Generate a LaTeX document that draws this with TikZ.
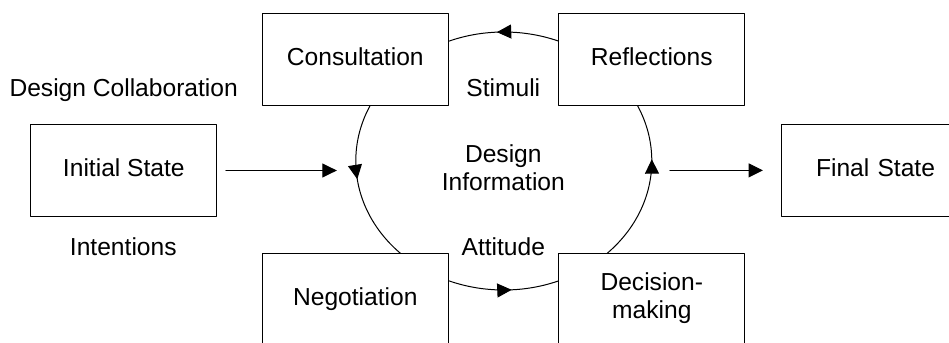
\documentclass[tikz,border=0pt]{standalone}
\usepackage{fontspec}
\setmainfont{Liberation Sans}
\usepackage{tikz}
\usetikzlibrary{arrows.meta,decorations.markings}

\begin{document}
\begin{tikzpicture}[line cap=round,line join=round,>={Triangle[length=7.2pt,width=7pt]},x=0.5pt,y=0.5pt,
  line width=0.5pt,
  every node/.style={font=\fontsize{12.3pt}{14.3pt}\selectfont},
  stage/.style={draw,fill=white,minimum width=93pt,inner xsep=0pt,inner ysep=0pt,text height=26pt,text depth=20pt},
  flow/.style={postaction={decorate},decoration={markings,
    mark=at position 0.002 with {\arrow{>}},
    mark=at position 0.258 with {\arrow{>}},
    mark=at position 0.521 with {\arrow{>}},
    mark=at position 0.759 with {\arrow{>}}}}]
\useasboundingbox (0,0) rectangle (949,343);
\clip (0,0) rectangle (949,343);

\coordinate (hub) at (503.8,182);
\coordinate (hubL) at (355.8,182);
\coordinate (hubR) at (651.8,182);
\draw[flow] (hub) ellipse [x radius=148,y radius=129];

\node[stage] (cons) at (355.3,283) {Consultation};
\node[stage] (refl) at (651.8,283) {Reflections};
\node[stage] (nego) at (355.3,43) {Negotiation};
\node[stage,text height=32.5pt,text depth=13.5pt,align=center] (deci) at (651.8,43) {Decision-\\making};
\node[stage] (init) at (123.85,172.5) {Initial State};
\node[stage,anchor=west,inner xsep=17.1pt,text width=120pt,align=left] (final) at (781.35,172.6) {Final State};

\node[anchor=base] (collab) at (123.7,246) {Design Collaboration};
\node[anchor=base] (intent) at (123.3,87) {Intentions};
\node[anchor=base] (stim) at (503.3,246.3) {Stimuli};
\node[anchor=base,align=center] (info) at (503.3,152) {Design\\Information};
\node[anchor=base] (attit) at (503.3,87.3) {Attitude};

\draw[->,shorten <=4.3pt,shorten >=9.5pt] (init.east) -- (init.east -| hubL);
\draw[->,shorten <=9pt,shorten >=9.2pt] (hubR |- final.west) -- (final.west);
\end{tikzpicture}
\end{document}
